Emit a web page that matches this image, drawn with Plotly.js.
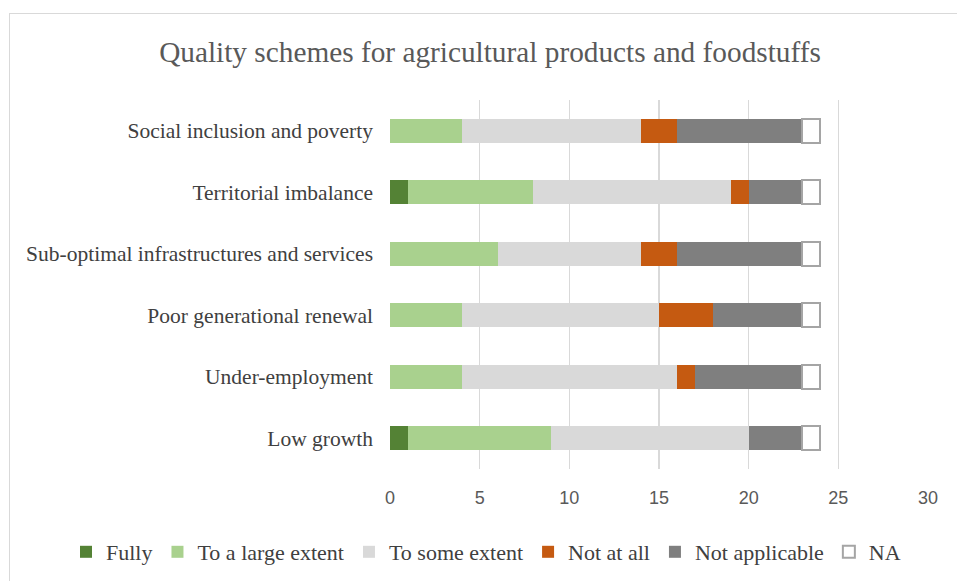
<!DOCTYPE html>
<html>
<head>
<meta charset="utf-8">
<script src="https://cdn.plot.ly/plotly-3.0.1.min.js"></script>
<style>
  html, body { margin: 0; padding: 0; background: #fff; }
  #wrap { position: relative; width: 957px; height: 581px; overflow: hidden; }
  #chart { width: 957px; height: 581px; }
  #frame { position: absolute; left: 9px; top: 13px; width: 1000px; height: 1000px;
           border-left: 1.5px solid #d9d9d9; border-top: 1.5px solid #d9d9d9; pointer-events: none; }
</style>
</head>
<body>
<div id="wrap">
  <div id="chart"></div>
  <div id="frame"></div>
</div>
<script>
const categories = [
  "Social inclusion and poverty",
  "Territorial imbalance",
  "Sub-optimal infrastructures and services",
  "Poor generational renewal",
  "Under-employment",
  "Low growth"
];
const fully          = [0, 1, 0, 0, 0, 1];
const largeExtent    = [4, 7, 6, 4, 4, 8];
const someExtent     = [10, 11, 8, 11, 12, 11];
const notAtAll       = [2, 1, 2, 3, 1, 0];
const notApplicable  = [7, 3, 7, 5, 6, 3];
const na             = [1, 1, 1, 1, 1, 1];
const seriesNames = ["Fully", "To a large extent", "To some extent", "Not at all", "Not applicable", "NA"];
const xTicks = [0, 5, 10, 15, 20, 25, 30];

const seriesData = [fully, largeExtent, someExtent, notAtAll, notApplicable, na];
const fills = ["#548235", "#a9d18e", "#d9d9d9", "#c55a11", "#7f7f7f", "#ffffff"];
const lines = [null, null, null, null, null, "#a5a5a5"];

const traces = seriesData.map((vals, i) => ({
  type: "bar",
  orientation: "h",
  name: seriesNames[i],
  y: categories,
  x: vals,
  marker: {
    color: fills[i],
    line: lines[i] ? { color: lines[i], width: 2 } : { width: 0 }
  },
  hoverinfo: "x+y+name"
}));

const plotL = 390, plotR = 928, plotT = 100, plotB = 469;
const plotW = plotR - plotL, plotH = plotB - plotT;

const layout = {
  width: 957,
  height: 581,
  barmode: "stack",
  bargap: 0.61,
  paper_bgcolor: "#fff",
  plot_bgcolor: "#fff",
  margin: { l: plotL, r: 957 - plotR, t: plotT, b: 581 - plotB, autoexpand: false },
  title: {
    text: "Quality schemes for agricultural products and foodstuffs",
    font: { family: "Liberation Serif, Times New Roman, serif", size: 29.3, color: "#595959" },
    x: 490 / 957, xanchor: "center",
    y: 1 - 52 / 581, yanchor: "middle", yref: "container"
  },
  xaxis: {
    range: [0, 30],
    tickvals: xTicks,
    ticktext: xTicks.map(String),
    showgrid: true,
    gridcolor: "#d9d9d9",
    gridwidth: 1.5,
    zeroline: false,
    showline: false,
    ticks: "",
    ticklabelstandoff: 16,
    tickfont: { family: "Liberation Sans, Arial, sans-serif", size: 18, color: "#595959" },
    fixedrange: true
  },
  yaxis: {
    autorange: "reversed",
    showgrid: false,
    zeroline: false,
    showline: false,
    ticks: "",
    ticklabelstandoff: 16,
    tickfont: { family: "Liberation Serif, Times New Roman, serif", size: 21.5, color: "#404040" },
    fixedrange: true
  },
  legend: {
    orientation: "h",
    xref: "paper", yref: "paper",
    x: (66 - plotL) / plotW, xanchor: "left",
    y: (plotB - 552) / plotH, yanchor: "middle",
    font: { family: "Liberation Serif, Times New Roman, serif", size: 22, color: "#404040" },
    itemwidth: 30,
    traceorder: "normal",
    tracegroupgap: 0
  },
  showlegend: true
};

Plotly.newPlot("chart", traces, layout, { displayModeBar: false, staticPlot: true });
</script>
</body>
</html>
